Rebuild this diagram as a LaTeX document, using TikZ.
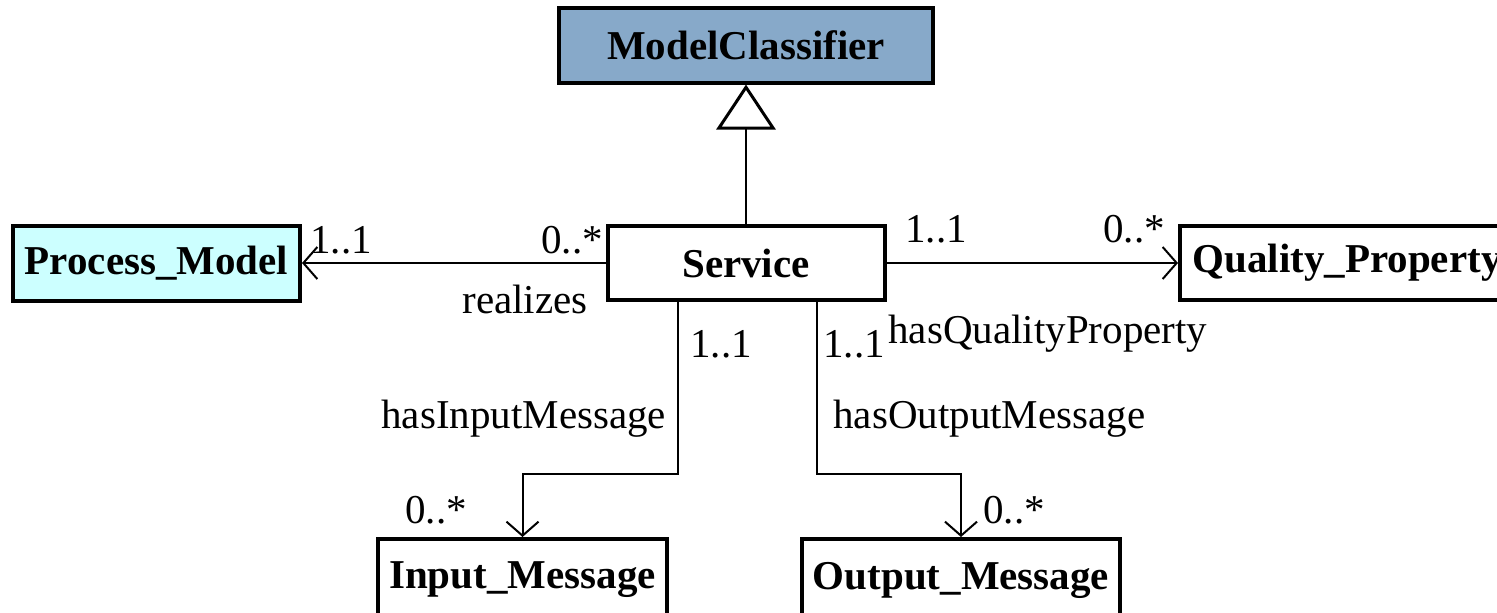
\documentclass[tikz,border=0pt]{standalone}
\usepackage{fontspec}
\setmainfont{Liberation Serif}
\usepackage{tikz}
\usetikzlibrary{arrows.meta}

\definecolor{mcblue}{RGB}{135,169,201}
\definecolor{pmcyan}{RGB}{204,255,255}

\begin{document}
\fontsize{20.5pt}{24pt}\selectfont
\begin{tikzpicture}[x=0.5pt, y=-0.5pt,
        cls/.style={draw=black, line width=2pt, inner sep=0pt, font=\bfseries},
        assoc/.style={line width=1pt, -{Straight Barb[length=7pt, width=16pt]}},
        mult/.style={inner sep=0pt, anchor=base west}]
        \clip (0,0) rectangle (1497,612);

        % classes
        \node (mc) at (746,45) [cls, fill=mcblue, minimum width=187pt, minimum height=37.5pt] {ModelClassifier};
        \node (srv) at (746,263) [cls, minimum width=138.5pt, minimum height=37pt] {Service};
        \node (pm) at (156.5,263) [cls, fill=pmcyan, minimum width=143.5pt, minimum height=37.5pt] {Process\_Model};
        \node (qp) at (1347,263) [cls, minimum width=167pt, minimum height=37pt] {Quality\_Property};
        \node (inp) at (522.5,580) [cls, minimum width=144.5pt, minimum height=41pt] {Input\_Message};
        \node (outp) at (961,580) [cls, minimum width=159pt, minimum height=41pt] {Output\_Message};

        % generalization
        \draw[line width=1pt, -{Triangle[open, length=22.5pt, width=29.5pt, line width=1.5pt]}] (srv) -- (mc);

        % associations
        \draw[assoc] (srv) -- (pm);
        \draw[assoc] (srv) -- (qp);
        \draw[assoc] ([xshift=-34pt]srv.south) -- ++(0,172) -| (inp);
        \draw[assoc] ([xshift=35.5pt]srv.south) -- ++(0,172) -| (outp);

        % multiplicities and roles
        \node (pm1) at (310,253) [mult] {1..1};
        \node (pm2) at (541,253) [mult] {0..*};
        \node (pmr) at (462,313) [mult] {realizes};
        \node (qp1) at (905,242) [mult] {1..1};
        \node (qp2) at (1103,242) [mult] {0..*};
        \node (qpr) at (888,343) [mult] {hasQualityProperty};
        \node (in1) at (690,357) [mult] {1..1};
        \node (inr) at (381,428) [mult] {hasInputMessage};
        \node (in2) at (405,523) [mult] {0..*};
        \node (out1) at (823,357) [mult] {1..1};
        \node (outr) at (833,428) [mult] {hasOutputMessage};
        \node (out2) at (983,523) [mult] {0..*};
    \end{tikzpicture}
\end{document}
